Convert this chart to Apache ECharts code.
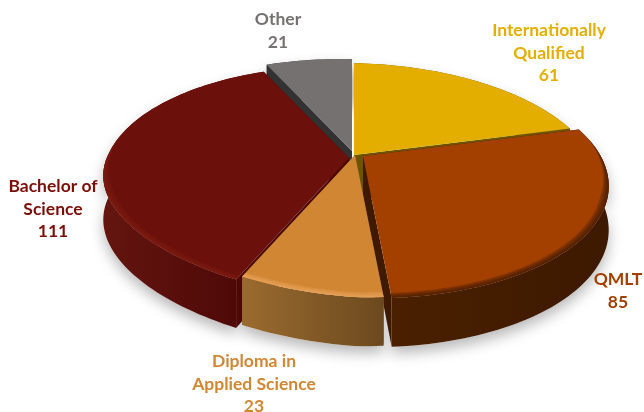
<!DOCTYPE html>
<html>
<head>
<meta charset="utf-8">
<style>
    html, body { margin: 0; padding: 0; background: #fff; }
    #main { width: 644px; height: 412px; }
</style>
</head>
<body>
<div id="main"></div>
<script src="https://cdn.jsdelivr.net/npm/echarts@6/dist/echarts.min.js"></script>
<script>
    // 数据
    const categories = ['Internationally\nQualified', 'QMLT', 'Diploma in\nApplied Science', 'Bachelor of\nScience', 'Other']
    const values = [61, 85, 23, 111, 21]

    // 颜色
    const topColors = ['#E3AE00', '#A34000', '#D18633', '#6B100A', '#757170']
    const labelColors = ['#E3AE00', '#A34000', '#D18633', '#7B0F08', '#757170']
    const faceColors = ['#6B5500', '#3F1A00', '#7A5020', '#4D0805', '#333233']
    const wallLeft = ['#6B5500', '#4A2000', '#9A6B2F', '#64150F', '#333233']
    const wallRight = ['#6B5500', '#3D1900', '#6C491E', '#4A0706', '#333233']
    const rimColors = ['#E3AE00', '#3F1A00', '#EBA65C', '#7E1D15', '#757170']

    // 每块的偏移（像素）和标签位置
    const offsets = [[0, 0], [9, 1], [1, 0], [-5, 3], [-2, -4]]
    const labelPos = [[549, 53], [618, 291], [254, 384], [53, 209], [278, 31]]

    // 投影参数
    const cx = 354, cy = 155, R = 240, H = 111.6, k = 0.215, shear = 0.02, twist = 0.05, depth = 43

    const total = values.reduce((a, b) => a + b, 0)
    const angles = []
    values.reduce((sum, v, i) => {
        angles[i] = [sum / total * Math.PI * 2, (sum + v) / total * Math.PI * 2]
        return sum + v
    }, 0)
    const mids = angles.map(a => -Math.cos((a[0] + a[1]) / 2))
    const order = mids.map((m, i) => i).sort((a, b) => mids[a] - mids[b])

    function project(theta, r, off, drop) {
        const u = Math.sin(theta) * r
        const v = -Math.cos(theta) * r
        const s = 1 / (1 - k * v)
        const x = R * u * s
        // 左前方稍微抬高一点
        const lift = twist * Math.min(x, 0) * Math.max(v, 0)
        return [cx + off[0] + x, cy + off[1] + H * v * s + shear * x + lift + drop * (1 + s) / 2]
    }

    function arc(a0, a1, fn) {
        const n = Math.max(4, Math.ceil((a1 - a0) * 40))
        const pts = []
        for (let i = 0; i <= n; i++) {
            pts.push(fn(a0 + (a1 - a0) * i / n))
        }
        return pts
    }

    // 边缘斜面的宽度，背面没有
    function rimWidth(theta, w) {
        const v = -Math.cos(theta)
        return w * Math.min(1, Math.max(0, (v + 0.2) / 0.5))
    }

    function renderSlice(params, api) {
        const i = params.dataIndex
        const value = api.value(0)
        const a0 = angles[i][0]
        const a1 = a0 + value / total * Math.PI * 2
        const off = offsets[i]
        const base = (order.indexOf(i) + 1) * 10
        const apex = project(0, 0, off, 0)
        const apexLow = project(0, 0, off, depth)
        const children = []

        const outerTop = arc(a0, a1, t => project(t, 1, off, 0))
        const outerLow = arc(a0, a1, t => project(t, 1, off, depth))
        const wall = outerTop.concat(outerLow.slice().reverse())

        // 阴影
        children.push({
            type: 'polygon', z2: 1, shape: { points: wall },
            style: { fill: '#fff', shadowBlur: 14, shadowOffsetY: 7, shadowColor: 'rgba(0,0,0,0.28)' }
        })
        // 两个切面
        ;[a0, a1].forEach(t => {
            const p = project(t, 1, off, 0)
            const q = project(t, 1, off, depth)
            children.push({
                type: 'polygon', z2: base, shape: { points: [apex, p, q, apexLow] },
                style: { fill: faceColors[i] }
            })
        })
        // 外侧面
        children.push({
            type: 'polygon', z2: base + 1, shape: { points: wall },
            style: {
                fill: {
                    type: 'linear', x: 0, y: 0, x2: 1, y2: 0,
                    colorStops: [{ offset: 0, color: wallLeft[i] }, { offset: 1, color: wallRight[i] }]
                }
            }
        })
        // 顶面
        children.push({
            type: 'polygon', z2: base + 2, shape: { points: [apex].concat(outerTop) },
            style: { fill: topColors[i] }
        })
        // 斜面，几层叠起来看着软一点
        ;[0.028, 0.021, 0.014, 0.007].forEach((width, b) => {
            const inner = arc(a0, a1, t => project(t, 1 - rimWidth(t, width), off, 0))
            children.push({
                type: 'polygon', z2: base + 3 + b, shape: { points: outerTop.concat(inner.reverse()) },
                style: { fill: rimColors[i], opacity: 0.3 }
            })
        })
        // 标签
        children.push({
            type: 'text', z2: 100,
            style: {
                text: categories[i] + '\n' + value,
                x: labelPos[i][0], y: labelPos[i][1],
                align: 'center', verticalAlign: 'middle',
                fill: labelColors[i], fontFamily: 'Lato', fontWeight: 'bold', fontSize: 17.5, lineHeight: 22.5
            }
        })
        return { type: 'group', children: children }
    }

    const chart = echarts.init(document.getElementById('main'), null, { renderer: 'canvas' })
    chart.setOption({
        animation: false,
        backgroundColor: '#fff',
        series: [{
            type: 'custom',
            coordinateSystem: 'none',
            data: values,
            renderItem: renderSlice
        }]
    })
</script>
</body>
</html>
